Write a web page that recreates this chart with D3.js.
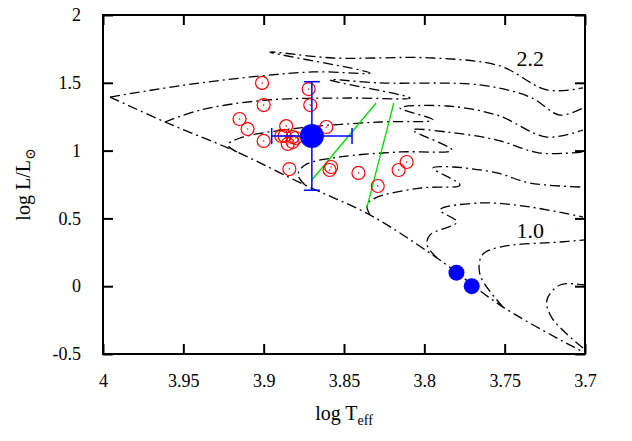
<!DOCTYPE html>
<html>
<head>
<meta charset="utf-8">
<script src="https://cdn.jsdelivr.net/npm/d3@7"></script>
<style>
  body { margin: 0; background: #fff; }
  svg text { font-family: "Liberation Serif", "DejaVu Serif", serif !important; }
</style>
</head>
<body>
<div id="chart"></div>
<script>
// evolutionary tracks [logTeff, logL]
var zams = [[3.9956,1.395],[3.9614,1.211],[3.9166,0.990],[3.8743,0.746],[3.8338,0.525],[3.7921,0.208],[3.7510,-0.154],[3.7012,-0.485]];
var tracks = [
  [[3.9956,1.395],[3.9396,1.499],[3.8693,1.580],[3.8338,1.572],[3.8961,1.727],[3.8568,1.683],[3.7946,1.683],[3.7529,1.624],[3.7237,1.447],[3.7012,1.462]],
  [[3.9614,1.211],[3.9396,1.299],[3.8979,1.373],[3.8463,1.388],[3.8089,1.388],[3.8587,1.521],[3.8276,1.499],[3.7653,1.484],[3.7342,1.395],[3.7156,1.262],[3.7012,1.314]],
  [[3.9166,0.990],[3.9222,1.041],[3.9147,1.093],[3.8774,1.167],[3.8276,1.211],[3.7946,1.226],[3.8151,1.314],[3.7859,1.329],[3.7548,1.262],[3.7237,1.100],[3.7012,1.152]],
  [[3.8743,0.746],[3.8786,0.820],[3.8743,0.894],[3.8525,0.953],[3.8151,0.990],[3.7828,1.004],[3.8071,1.152],[3.7859,1.137],[3.7548,1.078],[3.7280,0.982],[3.7012,0.990]],
  [[3.8338,0.525],[3.8357,0.599],[3.8307,0.650],[3.8027,0.724],[3.7778,0.746],[3.7946,0.872],[3.7822,0.879],[3.7548,0.835],[3.7342,0.761],[3.7012,0.731]],
  [[3.7921,0.208],[3.7983,0.304],[3.7965,0.378],[3.7797,0.473],[3.7902,0.562],[3.7653,0.614],[3.7342,0.584],[3.7012,0.510]],
  [[3.7510,-0.154],[3.7653,0.083],[3.7640,0.230],[3.7529,0.289],[3.7156,0.326],[3.7,0.341]],
  [[3.7012,-0.456],[3.7205,-0.235],[3.7237,-0.102],[3.7156,0.009],[3.7,0.009]]
];
var trackLabels = [["2.2",3.734,1.680],["1.0",3.734,0.414]];
var stars = [[3.901,1.499],[3.872,1.454],[3.900,1.336],[3.871,1.336],[3.915,1.233],[3.910,1.159],
  [3.886,1.181],[3.861,1.174],[3.900,1.071],[3.887,1.108],[3.882,1.100],[3.880,1.093],[3.885,1.049],
  [3.882,1.063],[3.889,1.108],[3.884,0.864],[3.858,0.879],[3.859,0.857],[3.841,0.835],[3.829,0.739],
  [3.816,0.857],[3.811,0.916]];
var target = {t: 3.870, l: 1.108, dt: 0.025, dl: 0.4};
var blueDots = [[3.780,0.100],[3.7705,0.0]];
var strip = [[[3.870,0.783],[3.830,1.351]],[[3.819,1.351],[3.836,0.569]]];
var xTicks = [4, 3.95, 3.9, 3.85, 3.8, 3.75, 3.7];
var yTicks = [-0.5, 0, 0.5, 1, 1.5, 2];

var W = 632, H = 441, m = {l: 103, r: 47, t: 15, b: 87};
var svg = d3.select("#chart").append("svg").attr("width", W).attr("height", H);
var x = d3.scaleLinear().domain([4, 3.7]).range([m.l, W - m.r]);
var y = d3.scaleLinear().domain([-0.5, 2]).range([H - m.b, m.t]);
var g = svg.append("g");
var line = d3.line().x(d => x(d[0])).y(d => y(d[1])).curve(d3.curveCatmullRom);

g.selectAll(".trk").data(tracks.concat([zams])).enter().append("path")
  .attr("d", line).attr("fill", "none").attr("stroke", "#000")
  .attr("stroke-width", 1.3).attr("stroke-dasharray", "10,4,2,4");

g.selectAll(".strip").data(strip).enter().append("path")
  .attr("d", d3.line().x(d => x(d[0])).y(d => y(d[1])))
  .attr("stroke", "#00dd00").attr("stroke-width", 1.3).attr("fill", "none");

g.selectAll(".lab").data(trackLabels).enter().append("text")
  .attr("x", d => x(d[1])).attr("y", d => y(d[2]) + 8).attr("text-anchor", "middle")
  .attr("font-size", 22).text(d => d[0]);

var st = g.selectAll(".star").data(stars).enter().append("g")
  .attr("transform", d => "translate(" + x(d[0]) + "," + y(d[1]) + ")");
st.append("circle").attr("r", 6.5).attr("fill", "none").attr("stroke", "#ff0000").attr("stroke-width", 1.2);
st.append("circle").attr("r", 0.8).attr("fill", "#ff0000");

g.selectAll(".bd").data(blueDots).enter().append("circle")
  .attr("cx", d => x(d[0])).attr("cy", d => y(d[1])).attr("r", 8).attr("fill", "#0000ff");

var eb = g.append("g").attr("stroke", "#0000ff").attr("stroke-width", 1.5);
eb.append("line").attr("x1", x(target.t - target.dt)).attr("x2", x(target.t + target.dt)).attr("y1", y(target.l)).attr("y2", y(target.l));
eb.append("line").attr("x1", x(target.t)).attr("x2", x(target.t)).attr("y1", y(target.l - target.dl)).attr("y2", y(target.l + target.dl));
[target.t - target.dt, target.t + target.dt].forEach(function(v) {
  eb.append("line").attr("x1", x(v)).attr("x2", x(v)).attr("y1", y(target.l) - 8).attr("y2", y(target.l) + 8);
});
[target.l - target.dl, target.l + target.dl].forEach(function(v) {
  eb.append("line").attr("y1", y(v)).attr("y2", y(v)).attr("x1", x(target.t) - 8).attr("x2", x(target.t) + 8);
});
g.append("circle").attr("cx", x(target.t)).attr("cy", y(target.l)).attr("r", 12).attr("fill", "#0000ff");

// axes with inward ticks
var fmt = d => String(d);
function styleAxis(sel) {
  sel.attr("font-family", null);
  sel.select(".domain").remove();
  sel.selectAll(".tick line").attr("stroke", "#000").attr("stroke-width", 2);
  sel.selectAll("text").attr("font-size", 18);
}
svg.append("g").attr("transform", "translate(0," + (H - m.b) + ")")
  .call(d3.axisBottom(x).tickValues(xTicks).tickSizeInner(-10).tickPadding(20).tickFormat(fmt))
  .call(styleAxis);
svg.append("g").attr("transform", "translate(0," + m.t + ")")
  .call(d3.axisTop(x).tickValues(xTicks).tickSizeInner(-10).tickFormat(""))
  .call(styleAxis);
svg.append("g").attr("transform", "translate(" + m.l + ",0)")
  .call(d3.axisLeft(y).tickValues(yTicks).tickSizeInner(-10).tickPadding(22).tickFormat(fmt))
  .call(styleAxis);
svg.append("g").attr("transform", "translate(" + (W - m.r) + ",0)")
  .call(d3.axisRight(y).tickValues(yTicks).tickSizeInner(-10).tickFormat(""))
  .call(styleAxis);
svg.append("rect").attr("x", m.l).attr("y", m.t).attr("width", W - m.l - m.r).attr("height", H - m.t - m.b)
  .attr("fill", "none").attr("stroke", "#000").attr("stroke-width", 2);

var xl = svg.append("text").attr("x", (m.l + W - m.r) / 2).attr("y", 420).attr("text-anchor", "middle").attr("font-size", 20);
xl.append("tspan").text("log T");
xl.append("tspan").attr("font-size", 14).attr("dy", 5).text("eff");
var yl = svg.append("text").attr("transform", "translate(30," + ((m.t + H - m.b) / 2) + ") rotate(-90)")
  .attr("text-anchor", "middle").attr("font-size", 20);
yl.append("tspan").text("log L/L");
yl.append("tspan").attr("font-size", 14).attr("dy", 5).text("\u2299");
</script>
</body>
</html>
